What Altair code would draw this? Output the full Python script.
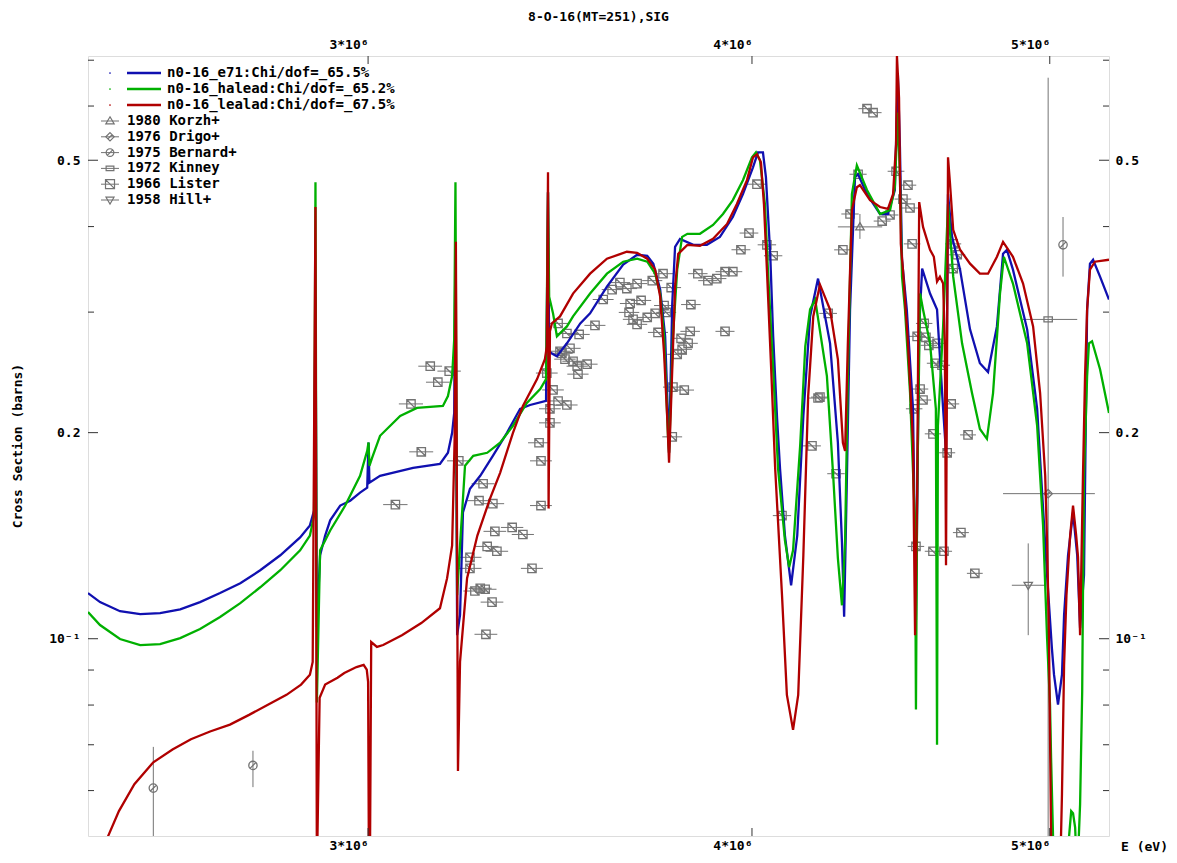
import altair as alt
import pandas as pd

# ---------------- data (energies in MeV, cross sections in barns) ----------------
SERIES = ["n0-16_e71:Chi/dof=_65.5%", "n0-16_halead:Chi/dof=_65.2%", "n0-16_lealad:Chi/dof=_67.5%"]
COLORS = ["#1010b0", "#00b000", "#b00000"]

E71_E = [2.432, 2.454, 2.491, 2.529, 2.567, 2.606, 2.645, 2.685, 2.726, 2.767, 2.809, 2.851, 2.872, 2.881,
         2.884, 2.887, 2.894, 2.905, 2.916, 2.938, 2.960, 2.982, 2.998, 3.001, 3.003, 3.027, 3.103, 3.166,
         3.185, 3.195, 3.200, 3.203, 3.207, 3.214, 3.221, 3.238, 3.263, 3.294, 3.329, 3.362, 3.387, 3.428,
         3.433, 3.436, 3.443, 3.456, 3.482, 3.517, 3.543, 3.588, 3.632, 3.670, 3.698, 3.715, 3.734, 3.748,
         3.756, 3.759, 3.768, 3.776, 3.790, 3.828, 3.867, 3.905, 3.943, 3.973, 4.003, 4.018, 4.033, 4.042,
         4.055, 4.064, 4.076, 4.085, 4.100, 4.119, 4.138, 4.157, 4.178, 4.203, 4.241, 4.266, 4.279, 4.286,
         4.295, 4.305, 4.321, 4.331, 4.360, 4.403, 4.429, 4.452, 4.459, 4.462, 4.469, 4.476, 4.492, 4.513,
         4.523, 4.534, 4.544, 4.571, 4.595, 4.616, 4.626, 4.633, 4.647, 4.675, 4.710, 4.745, 4.774, 4.806,
         4.828, 4.842, 4.864, 4.916, 4.953, 4.975, 4.990, 5.008, 5.016, 5.031, 5.046, 5.054, 5.069, 5.088,
         5.104, 5.115, 5.130, 5.142, 5.153, 5.165, 5.192, 5.227]
E71_S = [0.1166, 0.1131, 0.1097, 0.1086, 0.1090, 0.1104, 0.1131, 0.1166, 0.1205, 0.1259, 0.1324, 0.1406, 0.1464, 0.1539,
         0.316, 0.104, 0.1324, 0.1415, 0.1489, 0.1565, 0.1591, 0.1635, 0.1662, 0.1935, 0.169, 0.1730, 0.1777, 0.1801,
         0.1869, 0.1999, 0.2137, 0.380, 0.1012, 0.1083, 0.1529, 0.1656, 0.1730, 0.1850, 0.1999, 0.2167, 0.2195, 0.2225,
         0.449, 0.263, 0.261, 0.2586, 0.2701, 0.2888, 0.2987, 0.3269, 0.3519, 0.3638, 0.3626, 0.3530, 0.3237, 0.2765,
         0.2095, 0.1869, 0.3088, 0.3737, 0.3838, 0.3762, 0.3762, 0.3864, 0.4131, 0.4462, 0.4883, 0.5134, 0.5134, 0.4723,
         0.3650, 0.2765, 0.2095, 0.1771, 0.1415, 0.1197, 0.1415, 0.2116, 0.2957, 0.3358, 0.2701, 0.1933, 0.1383, 0.1077,
         0.1730, 0.3027, 0.4723, 0.4770, 0.4461, 0.4173, 0.4173, 0.4523, 0.5907, 0.6706, 0.5221, 0.3579, 0.3027, 0.2167,
         0.1065, 0.2859, 0.3473, 0.3193, 0.3027, 0.2167, 0.1869, 0.4461, 0.3864, 0.3461, 0.2831, 0.2526, 0.2452, 0.2859,
         0.3650, 0.3699, 0.3461, 0.2831, 0.2167, 0.1549, 0.1238, 0.0969, 0.0886, 0.0801, 0.0886, 0.1083, 0.1324, 0.1529,
         0.1324, 0.1036, 0.1238, 0.3027, 0.3531, 0.3578, 0.3380, 0.3129]

HALEAD_E = [2.432, 2.454, 2.491, 2.529, 2.567, 2.606, 2.645, 2.685, 2.726, 2.767, 2.809, 2.851, 2.872, 2.881,
            2.884, 2.887, 2.894, 2.916, 2.949, 2.982, 2.998, 3.001, 3.003, 3.009, 3.027, 3.073, 3.112, 3.173,
            3.185, 3.195, 3.200, 3.203, 3.207, 3.214, 3.226, 3.246, 3.280, 3.312, 3.344, 3.379, 3.413, 3.428,
            3.433, 3.436, 3.446, 3.456, 3.482, 3.498, 3.543, 3.588, 3.632, 3.670, 3.698, 3.720, 3.734, 3.745,
            3.756, 3.759, 3.770, 3.782, 3.796, 3.811, 3.847, 3.885, 3.914, 3.943, 3.973, 4.000, 4.012, 4.024,
            4.039, 4.048, 4.064, 4.079, 4.100, 4.113, 4.125, 4.147, 4.163, 4.178, 4.194, 4.231, 4.251, 4.266,
            4.279, 4.289, 4.298, 4.311, 4.327, 4.360, 4.403, 4.436, 4.452, 4.462, 4.469, 4.476, 4.486, 4.503,
            4.520, 4.523, 4.527, 4.537, 4.547, 4.571, 4.591, 4.595, 4.598, 4.616, 4.633, 4.651, 4.682, 4.717,
            4.745, 4.770, 4.792, 4.817, 4.831, 4.864, 4.916, 4.953, 4.975, 4.990, 5.001, 5.005, 5.016, 5.062,
            5.073, 5.081, 5.088, 5.096, 5.104, 5.115, 5.123, 5.126, 5.130, 5.142, 5.149, 5.161, 5.192, 5.227]
HALEAD_S = [0.1094, 0.1047, 0.0999, 0.0979, 0.0982, 0.1002, 0.1033, 0.1076, 0.1127, 0.1189, 0.1259, 0.1346, 0.1415, 0.1513,
            0.4645, 0.0807, 0.1346, 0.1439, 0.1565, 0.1730, 0.1881, 0.1935, 0.1789, 0.1838, 0.1979, 0.2116, 0.2174, 0.2188,
            0.2262, 0.2419, 0.2738, 0.4645, 0.1158, 0.1369, 0.1789, 0.1850, 0.1869, 0.1933, 0.2046, 0.2210, 0.2316, 0.2395,
            0.449, 0.316, 0.2987, 0.2765, 0.2859, 0.2957, 0.3193, 0.3414, 0.3554, 0.3590, 0.3554, 0.3414, 0.3193, 0.2765,
            0.1979, 0.1869, 0.2765, 0.3461, 0.3864, 0.3904, 0.3904, 0.4022, 0.4173, 0.4373, 0.4676, 0.5049, 0.5134, 0.5000,
            0.4315, 0.3461, 0.2476, 0.1771, 0.1392, 0.1272, 0.1346, 0.1913, 0.2674, 0.3027, 0.3129, 0.2419, 0.1730, 0.1310,
            0.1119, 0.1383, 0.2419, 0.4461, 0.4915, 0.4523, 0.4173, 0.4229, 0.4567, 0.5868, 0.4723, 0.3380, 0.3027, 0.2285,
            0.1464, 0.0788, 0.1618, 0.3193, 0.3027, 0.2701, 0.2167, 0.0700, 0.2046, 0.2859, 0.4315, 0.3380, 0.2701, 0.2285,
            0.2025, 0.1959, 0.2285, 0.3193, 0.3614, 0.3302, 0.2701, 0.2046, 0.1464, 0.1002, 0.0801, 0.0670, 0.045, 0.045,
            0.0515, 0.0560, 0.0556, 0.0530, 0.045, 0.0573, 0.0836, 0.1158, 0.1730, 0.2419, 0.2701, 0.2720, 0.2476, 0.2137]

LEALAD_E = [2.454, 2.469, 2.489, 2.518, 2.554, 2.591, 2.627, 2.665, 2.705, 2.744, 2.783, 2.822, 2.853, 2.872,
            2.878, 2.884, 2.887, 2.893, 2.905, 2.932, 2.947, 2.974, 2.990, 2.997, 3.000, 3.002, 3.004, 3.007,
            3.020, 3.034, 3.077, 3.122, 3.166, 3.183, 3.195, 3.201, 3.204, 3.209, 3.214, 3.231, 3.256, 3.287,
            3.312, 3.344, 3.369, 3.405, 3.425, 3.430, 3.433, 3.4345, 3.438, 3.443, 3.464, 3.498, 3.543, 3.588,
            3.642, 3.670, 3.698, 3.720, 3.734, 3.745, 3.754, 3.759, 3.768, 3.776, 3.785, 3.811, 3.847, 3.885,
            3.926, 3.955, 3.985, 4.003, 4.015, 4.027, 4.036, 4.045, 4.058, 4.070, 4.091, 4.106, 4.125, 4.141,
            4.157, 4.172, 4.188, 4.209, 4.241, 4.266, 4.282, 4.289, 4.298, 4.311, 4.327, 4.337, 4.370, 4.403,
            4.429, 4.446, 4.456, 4.459, 4.466, 4.472, 4.479, 4.496, 4.513, 4.520, 4.527, 4.534, 4.547, 4.571,
            4.584, 4.595, 4.605, 4.616, 4.622, 4.626, 4.633, 4.640, 4.651, 4.675, 4.710, 4.745, 4.774, 4.806,
            4.828, 4.864, 4.901, 4.938, 4.964, 4.983, 4.990, 4.997, 5.005, 5.008, 5.039, 5.046, 5.054, 5.063,
            5.077, 5.088, 5.100, 5.107, 5.115, 5.126, 5.134, 5.142, 5.153, 5.172, 5.227]
LEALAD_S = [0.044, 0.0515, 0.0560, 0.0613, 0.0660, 0.0689, 0.0713, 0.0732, 0.0749, 0.0774, 0.0801, 0.0828, 0.0857, 0.0886,
            0.0925, 0.4272, 0.045, 0.0820, 0.0857, 0.0877, 0.0891, 0.0909, 0.0916, 0.0901, 0.0865, 0.045, 0.045, 0.0989,
            0.0973, 0.0979, 0.1012, 0.1054, 0.1108, 0.1226, 0.1369, 0.1959, 0.380, 0.0641, 0.0925, 0.1226, 0.1415, 0.1602,
            0.1747, 0.1999, 0.2188, 0.2395, 0.2560, 0.2674, 0.4803, 0.1549, 0.2812, 0.2888, 0.2957, 0.3193, 0.3414, 0.3590,
            0.3675, 0.3663, 0.3590, 0.3461, 0.3161, 0.2611, 0.2095, 0.1807, 0.2476, 0.3269, 0.3650, 0.3762, 0.3750, 0.3838,
            0.4036, 0.4315, 0.4676, 0.5049, 0.5100, 0.4965, 0.4315, 0.3461, 0.2476, 0.1777, 0.1158, 0.0828, 0.0736, 0.0828,
            0.1324, 0.2262, 0.2957, 0.3291, 0.3027, 0.2560, 0.1933, 0.1880, 0.2701, 0.4229, 0.4567, 0.4598, 0.4373, 0.4272,
            0.4244, 0.4461, 0.5275, 0.71, 0.6170, 0.3774, 0.3461, 0.2701, 0.1933, 0.1012, 0.1618, 0.4344, 0.3996, 0.3700,
            0.3614, 0.3324, 0.3380, 0.3304, 0.2701, 0.1280, 0.5049, 0.4613, 0.3956, 0.3700, 0.3531, 0.3414, 0.3414, 0.3614,
            0.3800, 0.3614, 0.3302, 0.2859, 0.2285, 0.1730, 0.1383, 0.1012, 0.0515, 0.045, 0.045, 0.0593, 0.0916, 0.1158,
            0.1415, 0.1565, 0.1415, 0.1316, 0.1012, 0.1730, 0.2419, 0.3027, 0.3461, 0.3554, 0.3578]

# experimental data sets
EXP_SETS = ["1980 Korzh+", "1976 Drigo+", "1975 Bernard+", "1972 Kinney", "1966 Lister", "1958 Hill+"]

LISTER_E = [3.143, 3.188, 3.161, 3.098, 3.122, 3.211, 3.062, 3.270, 3.260, 3.294, 3.299, 3.342, 3.369, 3.280,
            3.304, 3.238, 3.238, 3.392, 3.250, 3.263, 3.275, 3.292, 3.277, 3.415, 3.415, 3.410, 3.438, 3.438,
            3.446, 3.459, 3.482, 3.430, 3.459, 3.482, 3.514, 3.556, 3.490, 3.469, 3.477, 3.498, 3.509, 3.535,
            3.511, 3.464, 3.578, 3.602, 3.623, 3.642, 3.670, 3.712, 3.742, 3.651, 3.681, 3.648, 3.659, 3.670,
            3.698, 3.720, 3.745, 3.751, 3.728, 3.765, 3.841, 3.870, 3.896, 3.920, 3.821, 3.819, 3.920, 3.793,
            3.813, 3.796, 3.782, 3.770, 3.802, 3.768, 4.015, 3.991, 3.967, 3.943, 4.045, 4.064, 4.184, 4.203,
            4.360, 4.380, 4.331, 4.456, 4.496, 4.479, 4.503, 4.410, 4.436, 4.305, 4.282, 4.510, 4.651, 4.665,
            4.651, 4.235, 4.551, 4.527, 4.557, 4.567, 4.595, 4.588, 4.612, 4.537, 4.547, 4.517, 4.644, 4.209,
            4.581, 4.703, 4.630, 4.260, 4.091, 4.678, 4.523, 4.581, 4.619, 4.727]
LISTER_S = [0.2501, 0.2460, 0.2370, 0.2203, 0.1875, 0.1819, 0.1570, 0.1684, 0.1591, 0.1575, 0.1435, 0.1454, 0.1420, 0.1364,
            0.1342, 0.1315, 0.1267, 0.1267, 0.1174, 0.1185, 0.1181, 0.1131, 0.1015, 0.1565, 0.1819, 0.1933, 0.2067, 0.2167,
            0.2309, 0.2225, 0.2195, 0.2444, 0.2888, 0.2792, 0.2783, 0.2869, 0.2656, 0.2612, 0.2561, 0.2543, 0.2501, 0.2518,
            0.2435, 0.2630, 0.3130, 0.3236, 0.3313, 0.3247, 0.3302, 0.3335, 0.3414, 0.3088, 0.3120, 0.2997, 0.2928, 0.2879,
            0.2947, 0.2987, 0.3067, 0.2997, 0.2802, 0.3258, 0.3414, 0.3335, 0.3358, 0.3437, 0.3077, 0.2812, 0.2812, 0.2747,
            0.2701, 0.2647, 0.2603, 0.2331, 0.2308, 0.1972, 0.4613, 0.3914, 0.3700, 0.3437, 0.3762, 0.3626, 0.1913, 0.2247,
            0.5947, 0.5868, 0.4770, 0.4818, 0.4598, 0.4388, 0.4258, 0.4075, 0.4159, 0.4173, 0.3699, 0.3774, 0.3774, 0.3638,
            0.3473, 0.2987, 0.2888, 0.2765, 0.2756, 0.2683, 0.2701, 0.2526, 0.2509, 0.2316, 0.2232, 0.2167, 0.2203, 0.2254,
            0.1992, 0.1985, 0.1869, 0.1742, 0.1513, 0.1429, 0.1364, 0.1342, 0.1342, 0.1246]
LISTER_DE = 0.028  # half width of the energy bins

BERNARD_E = [2.554, 2.752, 5.050]
BERNARD_S = [0.0605, 0.0653, 0.3762]
BERNARD_LO = [0.046, 0.0607, 0.3380]
BERNARD_HI = [0.0695, 0.0686, 0.4131]

KORZH_E, KORZH_S = [4.337], [0.3996]
KORZH_ELO, KORZH_EHI, KORZH_LO, KORZH_HI = [4.266], [4.410], [0.3838], [0.4173]
DRIGO_E, DRIGO_S = [4.994], [0.1629]
DRIGO_ELO, DRIGO_EHI = [4.828], [5.172]
KINNEY_E, KINNEY_S = [4.994], [0.2927]
KINNEY_ELO, KINNEY_EHI, KINNEY_LO, KINNEY_HI = [4.898], [5.104], [0.045], [0.66]
HILL_E, HILL_S = [4.920], [0.1197]
HILL_ELO, HILL_EHI, HILL_LO, HILL_HI = [4.860], [4.983], [0.1012], [0.1378]

X_TICKS = [3.0, 4.0, 5.0]
Y_MAJOR = [0.1, 0.2, 0.5]
Y_MINOR = [0.06, 0.07, 0.08, 0.09, 0.3, 0.4, 0.6, 0.7]
X_DOMAIN = [2.432, 5.227]
Y_DOMAIN = [0.0515, 0.710]

# ---------------- tables ----------------
MEV = 1e6


def curve(name, E, S):
    return pd.DataFrame({"E": [e * MEV for e in E], "sigma": S, "series": name, "i": list(range(len(E)))})


lines_df = pd.concat([curve(SERIES[0], E71_E, E71_S),
                      curve(SERIES[1], HALEAD_E, HALEAD_S),
                      curve(SERIES[2], LEALAD_E, LEALAD_S)], ignore_index=True)

pts_rows, hbar_rows, vbar_rows = [], [], []


def add(setname, E, S, elo=None, ehi=None, slo=None, shi=None):
    for k in range(len(E)):
        pts_rows.append({"set": setname, "E": E[k] * MEV, "s": S[k]})
        if elo is not None:
            hbar_rows.append({"E1": elo[k] * MEV, "E2": ehi[k] * MEV, "s": S[k]})
        if slo is not None:
            vbar_rows.append({"E": E[k] * MEV, "s1": slo[k], "s2": shi[k]})


add("1966 Lister", LISTER_E, LISTER_S,
    [e - LISTER_DE for e in LISTER_E], [e + LISTER_DE for e in LISTER_E])
add("1975 Bernard+", BERNARD_E, BERNARD_S, None, None, BERNARD_LO, BERNARD_HI)
add("1980 Korzh+", KORZH_E, KORZH_S, KORZH_ELO, KORZH_EHI, KORZH_LO, KORZH_HI)
add("1976 Drigo+", DRIGO_E, DRIGO_S, DRIGO_ELO, DRIGO_EHI)
add("1972 Kinney", KINNEY_E, KINNEY_S, KINNEY_ELO, KINNEY_EHI, KINNEY_LO, KINNEY_HI)
add("1958 Hill+", HILL_E, HILL_S, HILL_ELO, HILL_EHI, HILL_LO, HILL_HI)
pts_df = pd.DataFrame(pts_rows)
hbar_df = pd.DataFrame(hbar_rows)
vbar_df = pd.DataFrame(vbar_rows)

SHAPES = {
    "1980 Korzh+": "M0,-1L1,0.7L-1,0.7Z",
    "1976 Drigo+": "M0,-1L1,0L0,1L-1,0Z M-0.5,0.5L0.5,-0.5",
    "1975 Bernard+": "M-1,0A1,1,0,1,0,1,0A1,1,0,1,0,-1,0Z M-0.7,0.7L0.7,-0.7",
    "1972 Kinney": "M-1,-0.6L1,-0.6L1,0.6L-1,0.6Z",
    "1966 Lister": "M-1,-1L1,-1L1,1L-1,1Z M-1,-1L1,1",
    "1958 Hill+": "M-1,-0.7L1,-0.7L0,1Z",
}
SIZES = {"1980 Korzh+": 70, "1976 Drigo+": 70, "1975 Bernard+": 60, "1972 Kinney": 60,
         "1966 Lister": 81, "1958 Hill+": 64}

# ---------------- styling ----------------
W, H = 1021, 780
FONT = "DejaVu Sans Mono"
GREY = "#737373"
XS = alt.Scale(type="log", domain=[d * MEV for d in X_DOMAIN], nice=False, zero=False)
YS = alt.Scale(type="log", domain=Y_DOMAIN, nice=False, zero=False)

LAB = dict(labelFont=FONT, labelFontSize=13, labelFontWeight="bold", labelColor="black",
           ticks=False, domain=False, grid=False, title=None)
XEXPR = "round(datum.value/1000000) + '*10⁶'"
YEXPR = "datum.value < 0.15 ? '10⁻¹' : (datum.value < 0.3 ? '0.2' : '0.5')"
x_bottom = alt.Axis(orient="bottom", values=[v * MEV for v in X_TICKS], labelExpr=XEXPR,
                    labelAlign="right", labelPadding=3, **LAB)
x_top = alt.Axis(orient="top", values=[v * MEV for v in X_TICKS], labelExpr=XEXPR,
                 labelAlign="right", labelPadding=5, **LAB)
y_left = alt.Axis(orient="left", values=Y_MAJOR, labelExpr=YEXPR, labelPadding=8, **LAB)
y_right = alt.Axis(orient="right", values=Y_MAJOR, labelExpr=YEXPR, labelPadding=6, **LAB)

color = alt.Color("series:N", scale=alt.Scale(domain=SERIES, range=COLORS), legend=None)

layers = []

# experimental error bars and symbols
layers.append(alt.Chart(hbar_df).mark_rule(color=GREY, strokeWidth=1, clip=True).encode(
    x=alt.X("E1:Q", scale=XS, axis=None), x2="E2:Q", y=alt.Y("s:Q", scale=YS, axis=None)))
layers.append(alt.Chart(vbar_df).mark_rule(color=GREY, strokeWidth=1, clip=True).encode(
    x=alt.X("E:Q", scale=XS, axis=None), y=alt.Y("s1:Q", scale=YS, axis=None), y2="s2:Q"))
layers.append(alt.Chart(pts_df).mark_point(filled=False, color=GREY, strokeWidth=1.3, opacity=1, clip=True).encode(
    x=alt.X("E:Q", scale=XS, axis=None), y=alt.Y("s:Q", scale=YS, axis=None),
    shape=alt.Shape("set:N", scale=alt.Scale(domain=list(SHAPES), range=list(SHAPES.values())), legend=None),
    size=alt.Size("set:N", scale=alt.Scale(domain=list(SIZES), range=list(SIZES.values())), legend=None)))

# evaluated curves
layers.append(alt.Chart(lines_df).mark_line(strokeWidth=2.3, clip=True).encode(
    x=alt.X("E:Q", scale=XS, axis=x_bottom), y=alt.Y("sigma:Q", scale=YS, axis=y_left),
    color=color, order="i:Q"))

# inward ticks
xt_df = pd.DataFrame({"E": [v * MEV for v in X_TICKS]})
layers.append(alt.Chart(xt_df).mark_rule(color="#333", strokeWidth=1).encode(
    x=alt.X("E:Q", scale=XS, axis=x_top), y=alt.value(0), y2=alt.value(8)))
layers.append(alt.Chart(xt_df).mark_rule(color="#333", strokeWidth=1).encode(
    x=alt.X("E:Q", scale=XS, axis=None), y=alt.value(H), y2=alt.value(H - 8)))
ymaj_df = pd.DataFrame({"v": Y_MAJOR})
ymin_df = pd.DataFrame({"v": Y_MINOR})
layers.append(alt.Chart(ymaj_df).mark_rule(color="#333", strokeWidth=1).encode(
    y=alt.Y("v:Q", scale=YS, axis=y_right), x=alt.value(W), x2=alt.value(W - 10)))
layers.append(alt.Chart(ymaj_df).mark_rule(color="#333", strokeWidth=1).encode(
    y=alt.Y("v:Q", scale=YS, axis=None), x=alt.value(0), x2=alt.value(10)))
layers.append(alt.Chart(ymin_df).mark_rule(color="#333", strokeWidth=1).encode(
    y=alt.Y("v:Q", scale=YS, axis=None), x=alt.value(W), x2=alt.value(W - 6)))
layers.append(alt.Chart(ymin_df).mark_rule(color="#333", strokeWidth=1).encode(
    y=alt.Y("v:Q", scale=YS, axis=None), x=alt.value(0), x2=alt.value(6)))

one = pd.DataFrame({"k": [0]})
TXT = dict(font=FONT, fontWeight="bold", color="black")

# titles
layers.append(alt.Chart(one).mark_text(fontSize=13, align="center", baseline="middle", **TXT).encode(
    x=alt.value(W / 2), y=alt.value(-39), text=alt.value("8-O-16(MT=251),SIG")))
layers.append(alt.Chart(one).mark_text(fontSize=13, align="center", baseline="middle", angle=270, **TXT).encode(
    x=alt.value(-70), y=alt.value(H / 2), text=alt.value("Cross Section (barns)")))
layers.append(alt.Chart(one).mark_text(fontSize=13, align="left", baseline="middle", **TXT).encode(
    x=alt.value(W + 12), y=alt.value(H + 11), text=alt.value("E (eV)")))

# legend (drawn inside the frame, top-left)
for k, (name, col) in enumerate(zip(SERIES, COLORS)):
    yy = 17 + 16 * k
    layers.append(alt.Chart(one).mark_rule(color=col, strokeWidth=2.3).encode(
        x=alt.value(39), x2=alt.value(73), y=alt.value(yy)))
    layers.append(alt.Chart(one).mark_point(filled=True, color=col, size=3, opacity=1).encode(
        x=alt.value(22), y=alt.value(yy)))
    layers.append(alt.Chart(one).mark_text(fontSize=14, align="left", baseline="middle", **TXT).encode(
        x=alt.value(79), y=alt.value(yy), text=alt.value(name)))
for k, name in enumerate(EXP_SETS):
    yy = 65 + 15.8 * k
    layers.append(alt.Chart(one).mark_rule(color=GREY, strokeWidth=1).encode(
        x=alt.value(13), x2=alt.value(31), y=alt.value(yy)))
    layers.append(alt.Chart(one).mark_point(filled=False, color=GREY, strokeWidth=1.2, size=SIZES[name],
                                            opacity=1, shape=SHAPES[name]).encode(
        x=alt.value(22), y=alt.value(yy)))
    layers.append(alt.Chart(one).mark_text(fontSize=14, align="left", baseline="middle", **TXT).encode(
        x=alt.value(39), y=alt.value(yy), text=alt.value(name)))

chart = alt.layer(*layers).resolve_axis(x="independent", y="independent").properties(
    width=W, height=H,
    autosize=alt.AutoSizeParams(type="none"),
    padding={"left": 80, "top": 48, "right": 60, "bottom": 19},
).configure_view(stroke="#333", strokeWidth=1.6).configure(background="white")

chart.save("out.html", embed_options={"renderer": "svg", "actions": False})
